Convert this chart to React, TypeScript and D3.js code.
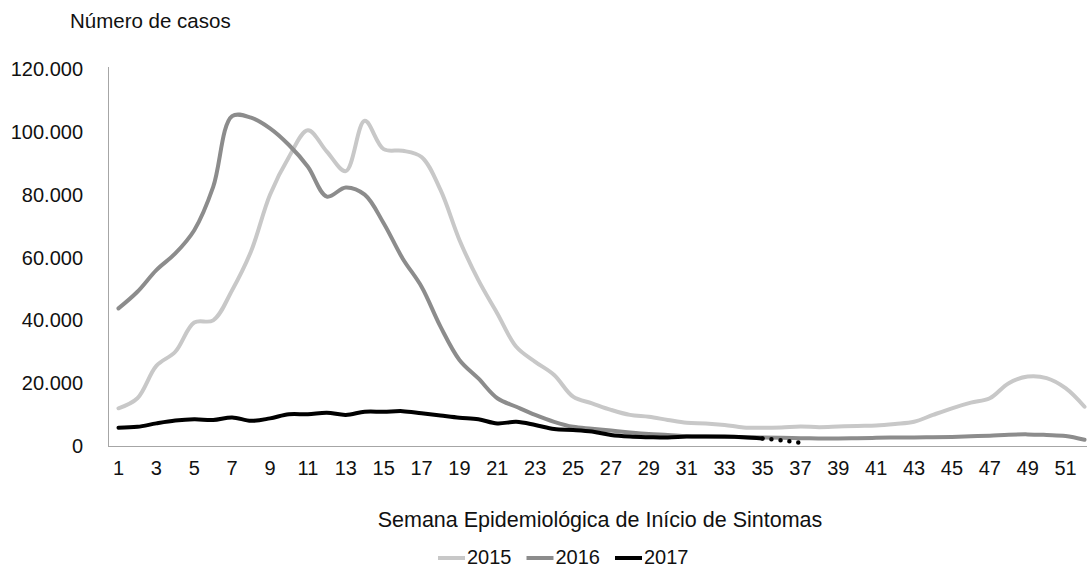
import React from "react";
import * as d3 from "d3";

const weeks = d3.range(1, 53);

const cases2015 = [
  12000, 15200, 25500, 30000, 39300, 40000, 49600, 62000, 80000, 92000,
  100500, 93700, 87500, 103500, 94500, 94000, 92000, 81500, 65600, 52800,
  42200, 31600, 26800, 22600, 15700, 13600, 11500, 9900, 9300, 8300,
  7400, 7200, 6700, 5900, 5800, 5900, 6200, 6000, 6200, 6400,
  6500, 7000, 7700, 9900, 12000, 13800, 15200, 20000, 22100, 21600,
  18400, 12500,
];

const cases2016 = [
  43800, 49100, 56000, 61300, 68700, 82500, 105000, 104500, 101100, 95800,
  88900, 79400, 82300, 80000, 70900, 59700, 50700, 38000, 27400, 21500,
  15200, 12500, 9900, 7700, 6100, 5500, 4900, 4300, 3800, 3500,
  3100, 3000, 2900, 2800, 2700, 2600, 2500, 2400, 2400, 2500,
  2600, 2700, 2700, 2800, 2900, 3100, 3300, 3600, 3700, 3500,
  3200, 2000,
];

// 2017 solid up to week 35, then dotted (provisional) weeks
const cases2017 = [
  5800, 6100, 7200, 8100, 8500, 8300, 9100, 8000, 8800, 10100,
  10100, 10600, 9900, 10900, 10900, 11100, 10400, 9700, 9000, 8500,
  7200, 7700, 6700, 5400, 5100, 4600, 3500, 3000, 2800, 2700,
  3000, 3000, 3000, 2800, 2400,
];
const provisional2017 = [2400, 1800, 1000];

const yTicks = [0, 20000, 40000, 60000, 80000, 100000, 120000];
const xTickWeeks = weeks.filter((w) => w % 2 === 1);

const series = [
  { name: "2015", color: "#c8c8c8" },
  { name: "2016", color: "#8c8c8c" },
  { name: "2017", color: "#000000" },
];

const fmt = (v: number) => (v === 0 ? "0" : d3.format(",")(v).replace(/,/g, "."));

export default function App() {
  const width = 1087;
  const height = 569;
  const font = "'Liberation Sans', Arial, sans-serif";

  const x = d3.scaleBand<number>().domain(weeks).range([109, 1094]);
  const cx = (w: number) => (x(w) as number) + x.bandwidth() / 2;
  const y = d3.scaleLinear().domain([0, 120000]).range([446, 69]);

  const line = d3
    .line<number>()
    .x((_, i) => cx(i + 1))
    .y((d) => y(d))
    .curve(d3.curveCatmullRom.alpha(0.5));

  const dotted = d3
    .line<number>()
    .x((_, i) => cx(i + 35))
    .y((d) => y(d))
    .curve(d3.curveCatmullRom.alpha(0.5));

  const data = [cases2015, cases2016, cases2017];

  return (
    <svg
      width={width}
      height={height}
      style={{ position: "absolute", left: 0, top: 0, background: "#fff" }}
      fontFamily={font}
    >
      <text x={70} y={21} dy="0.35em" fontSize={20.5} fill="#111">
        Número de casos
      </text>

      {/* y axis */}
      <line x1={108.5} x2={108.5} y1={67} y2={446.5} stroke="#a6a6a6" />
      {yTicks.map((t) => (
        <text key={t} x={83} y={y(t)} dy="0.35em" textAnchor="end" fontSize={20} fill="#111">
          {fmt(t)}
        </text>
      ))}

      {/* x axis */}
      <line x1={108} x2={width} y1={446.5} y2={446.5} stroke="#a6a6a6" />
      {xTickWeeks.map((w) => (
        <text key={w} x={cx(w)} y={468} dy="0.35em" textAnchor="middle" fontSize={20} fill="#111">
          {w}
        </text>
      ))}

      {data.map((d, i) => (
        <path
          key={series[i].name}
          d={line(d) || ""}
          fill="none"
          stroke={series[i].color}
          strokeWidth={4}
          strokeLinecap="round"
          strokeLinejoin="round"
        />
      ))}
      <path
        d={dotted(provisional2017) || ""}
        fill="none"
        stroke="#000"
        strokeWidth={4.5}
        strokeLinecap="round"
        strokeDasharray="0 9"
      />

      <text x={600} y={519} dy="0.35em" textAnchor="middle" fontSize={21.5} fill="#111">
        Semana Epidemiológica de Início de Sintomas
      </text>

      {/* legend */}
      {series.map((s, i) => {
        const lx = 438 + i * 88.5;
        return (
          <g key={s.name}>
            <line x1={lx} x2={lx + 27} y1={558} y2={558} stroke={s.color} strokeWidth={4} />
            <text x={lx + 29} y={557} dy="0.35em" fontSize={20} fill="#111">
              {s.name}
            </text>
          </g>
        );
      })}
    </svg>
  );
}
